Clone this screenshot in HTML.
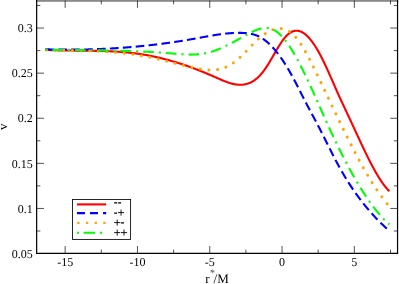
<!DOCTYPE html>
<html><head><meta charset="utf-8"><style>
html,body{margin:0;padding:0;background:#fff;}
svg{display:block;font-family:"Liberation Serif",serif;}
text{filter:grayscale(1);text-rendering:geometricPrecision;}
</style></head><body>
<svg width="399" height="284" viewBox="0 0 399 284">
<rect width="399" height="284" fill="#fff"/>
<rect x="36.05" y="0" width="362.1" height="1.8" fill="#888"/>
<path d="M36.65,0 V253.3 H397.55 V0" fill="none" stroke="#000" stroke-width="1.2" stroke-linejoin="miter"/>
<path d="M65.15,253.3 v-7.3 M65.15,0.6 v7.3 M101.30,253.3 v-3.7 M101.30,0.6 v3.7 M137.45,253.3 v-7.3 M137.45,0.6 v7.3 M173.60,253.3 v-3.7 M173.60,0.6 v3.7 M209.75,253.3 v-7.3 M209.75,0.6 v7.3 M245.90,253.3 v-3.7 M245.90,0.6 v3.7 M282.05,253.3 v-7.3 M282.05,0.6 v7.3 M318.20,253.3 v-3.7 M318.20,0.6 v3.7 M354.35,253.3 v-7.3 M354.35,0.6 v7.3 M390.50,253.3 v-3.7 M390.50,0.6 v3.7 M36.65,231.00 h3.7 M397.55,231.00 h-3.7 M36.65,208.45 h7.3 M397.55,208.45 h-7.3 M36.65,185.90 h3.7 M397.55,185.90 h-3.7 M36.65,163.35 h7.3 M397.55,163.35 h-7.3 M36.65,140.80 h3.7 M397.55,140.80 h-3.7 M36.65,118.25 h7.3 M397.55,118.25 h-7.3 M36.65,95.70 h3.7 M397.55,95.70 h-3.7 M36.65,73.15 h7.3 M397.55,73.15 h-7.3 M36.65,50.60 h3.7 M397.55,50.60 h-3.7 M36.65,28.05 h7.3 M397.55,28.05 h-7.3 M36.65,5.50 h3.7 M397.55,5.50 h-3.7" stroke="#000" stroke-width="0.68" fill="none"/>
<g font-size="12"><text x="65.15" y="265.8" text-anchor="middle">-15</text><text x="137.45" y="265.8" text-anchor="middle">-10</text><text x="209.75" y="265.8" text-anchor="middle">-5</text><text x="282.05" y="265.8" text-anchor="middle">0</text><text x="354.35" y="265.8" text-anchor="middle">5</text><text x="32.8" y="257.75" text-anchor="end">0.05</text><text x="32.8" y="212.65" text-anchor="end">0.1</text><text x="32.8" y="167.55" text-anchor="end">0.15</text><text x="32.8" y="122.45" text-anchor="end">0.2</text><text x="32.8" y="77.35" text-anchor="end">0.25</text><text x="32.8" y="32.25" text-anchor="end">0.3</text></g>
<path d="M45.30,49.90 L45.79,49.92 L46.28,49.95 L46.78,49.97 L47.27,49.99 L47.76,50.01 L48.25,50.03 L48.75,50.05 L49.24,50.07 L49.73,50.09 L50.22,50.11 L50.72,50.13 L51.21,50.14 L51.70,50.16 L52.19,50.18 L52.68,50.19 L53.18,50.21 L53.67,50.22 L54.16,50.24 L54.65,50.25 L55.15,50.27 L55.64,50.28 L56.13,50.29 L56.62,50.31 L57.11,50.32 L57.61,50.33 L58.10,50.34 L58.59,50.35 L59.08,50.37 L59.58,50.38 L60.07,50.39 L60.56,50.40 L61.05,50.41 L61.55,50.42 L62.04,50.42 L62.53,50.43 L63.02,50.44 L63.51,50.45 L64.01,50.46 L64.50,50.47 L64.99,50.47 L65.48,50.48 L65.98,50.49 L66.47,50.50 L66.96,50.50 L67.45,50.51 L67.94,50.51 L68.44,50.52 L68.93,50.53 L69.42,50.53 L69.91,50.54 L70.41,50.54 L70.90,50.55 L71.39,50.55 L71.88,50.56 L72.38,50.56 L72.87,50.57 L73.36,50.57 L73.85,50.58 L74.34,50.58 L74.84,50.59 L75.33,50.59 L75.82,50.60 L76.31,50.60 L76.81,50.61 L77.30,50.61 L77.79,50.62 L78.28,50.62 L78.77,50.62 L79.27,50.63 L79.76,50.63 L80.25,50.64 L80.74,50.64 L81.24,50.65 L81.73,50.65 L82.22,50.66 L82.71,50.66 L83.21,50.67 L83.70,50.67 L84.19,50.68 L84.68,50.68 L85.17,50.69 L85.67,50.69 L86.16,50.70 L86.65,50.70 L87.14,50.71 L87.64,50.71 L88.13,50.72 L88.62,50.73 L89.11,50.73 L89.60,50.74 L90.10,50.75 L90.59,50.75 L91.08,50.76 L91.57,50.77 L92.07,50.78 L92.56,50.78 L93.05,50.79 L93.54,50.80 L94.04,50.81 L94.53,50.82 L95.02,50.83 L95.51,50.84 L96.00,50.85 L96.50,50.86 L96.99,50.87 L97.48,50.88 L97.97,50.89 L98.47,50.90 L98.96,50.91 L99.45,50.93 L99.94,50.94 L100.43,50.95 L100.93,50.96 L101.42,50.98 L101.91,50.99 L102.40,51.01 L102.90,51.02 L103.39,51.04 L103.88,51.05 L104.37,51.07 L104.87,51.09 L105.36,51.10 L105.85,51.12 L106.34,51.14 L106.83,51.16 L107.33,51.18 L107.82,51.20 L108.31,51.22 L108.80,51.24 L109.30,51.26 L109.79,51.28 L110.28,51.31 L110.77,51.33 L111.26,51.35 L111.76,51.38 L112.25,51.40 L112.74,51.43 L113.23,51.45 L113.73,51.48 L114.22,51.51 L114.71,51.53 L115.20,51.56 L115.70,51.59 L116.19,51.62 L116.68,51.65 L117.17,51.68 L117.66,51.72 L118.16,51.75 L118.65,51.78 L119.14,51.82 L119.63,51.85 L120.13,51.89 L120.62,51.92 L121.11,51.96 L121.60,52.00 L122.09,52.04 L122.59,52.07 L123.08,52.11 L123.57,52.16 L124.06,52.20 L124.56,52.24 L125.05,52.28 L125.54,52.33 L126.03,52.37 L126.53,52.42 L127.02,52.46 L127.51,52.51 L128.00,52.56 L128.49,52.61 L128.99,52.66 L129.48,52.71 L129.97,52.76 L130.46,52.81 L130.96,52.87 L131.45,52.92 L131.94,52.98 L132.43,53.03 L132.92,53.09 L133.42,53.15 L133.91,53.21 L134.40,53.27 L134.89,53.33 L135.39,53.39 L135.88,53.46 L136.37,53.52 L136.86,53.59 L137.36,53.65 L137.85,53.72 L138.34,53.79 L138.83,53.86 L139.32,53.93 L139.82,54.00 L140.31,54.07 L140.80,54.15 L141.29,54.22 L141.79,54.30 L142.28,54.37 L142.77,54.45 L143.26,54.53 L143.75,54.61 L144.25,54.69 L144.74,54.78 L145.23,54.86 L145.72,54.94 L146.22,55.03 L146.71,55.12 L147.20,55.21 L147.69,55.30 L148.19,55.39 L148.68,55.48 L149.17,55.57 L149.66,55.67 L150.15,55.76 L150.65,55.86 L151.14,55.96 L151.63,56.06 L152.12,56.16 L152.62,56.26 L153.11,56.36 L153.60,56.46 L154.09,56.57 L154.58,56.67 L155.08,56.78 L155.57,56.89 L156.06,57.00 L156.55,57.11 L157.05,57.22 L157.54,57.33 L158.03,57.44 L158.52,57.56 L159.02,57.67 L159.51,57.79 L160.00,57.91 L160.49,58.03 L160.98,58.15 L161.48,58.27 L161.97,58.39 L162.46,58.51 L162.95,58.64 L163.45,58.76 L163.94,58.89 L164.43,59.01 L164.92,59.14 L165.42,59.27 L165.91,59.40 L166.40,59.53 L166.89,59.67 L167.38,59.80 L167.88,59.93 L168.37,60.07 L168.86,60.21 L169.35,60.34 L169.85,60.48 L170.34,60.62 L170.83,60.76 L171.32,60.90 L171.81,61.05 L172.31,61.19 L172.80,61.33 L173.29,61.48 L173.78,61.63 L174.28,61.77 L174.77,61.92 L175.26,62.07 L175.75,62.22 L176.25,62.37 L176.74,62.52 L177.23,62.68 L177.72,62.83 L178.21,62.99 L178.71,63.14 L179.20,63.30 L179.69,63.46 L180.18,63.62 L180.68,63.78 L181.17,63.94 L181.66,64.10 L182.15,64.26 L182.64,64.43 L183.14,64.59 L183.63,64.76 L184.12,64.92 L184.61,65.09 L185.11,65.26 L185.60,65.43 L186.09,65.60 L186.58,65.77 L187.08,65.94 L187.57,66.11 L188.06,66.29 L188.55,66.46 L189.04,66.63 L189.54,66.81 L190.03,66.99 L190.52,67.17 L191.01,67.34 L191.51,67.52 L192.00,67.70 L192.49,67.89 L192.98,68.07 L193.47,68.25 L193.97,68.44 L194.46,68.62 L194.95,68.81 L195.44,68.99 L195.94,69.18 L196.43,69.37 L196.92,69.56 L197.41,69.75 L197.91,69.94 L198.40,70.13 L198.89,70.32 L199.38,70.51 L199.87,70.71 L200.37,70.90 L200.86,71.10 L201.35,71.29 L201.84,71.49 L202.34,71.69 L202.83,71.89 L203.32,72.09 L203.81,72.29 L204.30,72.49 L204.80,72.69 L205.29,72.89 L205.78,73.10 L206.27,73.30 L206.77,73.50 L207.26,73.71 L207.75,73.92 L208.24,74.12 L208.74,74.33 L209.23,74.54 L209.72,74.75 L210.21,74.96 L210.70,75.17 L211.20,75.38 L211.69,75.59 L212.18,75.81 L212.67,76.02 L213.17,76.24 L213.66,76.45 L214.15,76.67 L214.64,76.88 L215.13,77.10 L215.63,77.32 L216.12,77.54 L216.61,77.76 L217.10,77.97 L217.60,78.19 L218.09,78.41 L218.58,78.63 L219.07,78.85 L219.57,79.06 L220.06,79.28 L220.55,79.49 L221.04,79.70 L221.53,79.91 L222.03,80.12 L222.52,80.33 L223.01,80.53 L223.50,80.74 L224.00,80.94 L224.49,81.13 L224.98,81.33 L225.47,81.52 L225.96,81.70 L226.46,81.89 L226.95,82.07 L227.44,82.24 L227.93,82.42 L228.43,82.58 L228.92,82.75 L229.41,82.90 L229.90,83.06 L230.40,83.20 L230.89,83.35 L231.38,83.48 L231.87,83.62 L232.36,83.74 L232.86,83.86 L233.35,83.97 L233.84,84.08 L234.33,84.18 L234.83,84.27 L235.32,84.36 L235.81,84.44 L236.30,84.51 L236.79,84.57 L237.29,84.63 L237.78,84.68 L238.27,84.72 L238.76,84.75 L239.26,84.77 L239.75,84.78 L240.24,84.79 L240.73,84.79 L241.23,84.77 L241.72,84.75 L242.21,84.72 L242.70,84.67 L243.19,84.62 L243.69,84.56 L244.18,84.48 L244.67,84.40 L245.16,84.30 L245.66,84.20 L246.15,84.08 L246.64,83.95 L247.13,83.81 L247.62,83.65 L248.12,83.49 L248.61,83.31 L249.10,83.12 L249.59,82.92 L250.09,82.71 L250.58,82.48 L251.07,82.24 L251.56,81.98 L252.06,81.71 L252.55,81.43 L253.04,81.13 L253.53,80.82 L254.02,80.50 L254.52,80.16 L255.01,79.81 L255.50,79.44 L255.99,79.05 L256.49,78.65 L256.98,78.24 L257.47,77.81 L257.96,77.36 L258.45,76.90 L258.95,76.42 L259.44,75.92 L259.93,75.41 L260.42,74.88 L260.92,74.33 L261.41,73.77 L261.90,73.19 L262.39,72.59 L262.89,71.97 L263.38,71.34 L263.87,70.69 L264.36,70.02 L264.85,69.33 L265.35,68.62 L265.84,67.90 L266.33,67.16 L266.82,66.40 L267.32,65.64 L267.81,64.86 L268.30,64.07 L268.79,63.26 L269.28,62.45 L269.78,61.63 L270.27,60.81 L270.76,59.97 L271.25,59.13 L271.75,58.29 L272.24,57.44 L272.73,56.59 L273.22,55.74 L273.72,54.89 L274.21,54.04 L274.70,53.19 L275.19,52.34 L275.68,51.49 L276.18,50.65 L276.67,49.82 L277.16,48.99 L277.65,48.17 L278.15,47.35 L278.64,46.55 L279.13,45.76 L279.62,44.97 L280.12,44.20 L280.61,43.45 L281.10,42.70 L281.59,41.98 L282.08,41.27 L282.58,40.57 L283.07,39.90 L283.56,39.24 L284.05,38.60 L284.55,37.99 L285.04,37.40 L285.53,36.83 L286.02,36.28 L286.51,35.76 L287.01,35.27 L287.50,34.80 L287.99,34.36 L288.48,33.94 L288.98,33.55 L289.47,33.19 L289.96,32.85 L290.45,32.54 L290.95,32.25 L291.44,31.98 L291.93,31.75 L292.42,31.53 L292.91,31.34 L293.41,31.18 L293.90,31.04 L294.39,30.93 L294.88,30.84 L295.38,30.77 L295.87,30.73 L296.36,30.71 L296.85,30.71 L297.34,30.74 L297.84,30.79 L298.33,30.86 L298.82,30.96 L299.31,31.08 L299.81,31.22 L300.30,31.39 L300.79,31.58 L301.28,31.79 L301.78,32.02 L302.27,32.28 L302.76,32.55 L303.25,32.85 L303.74,33.17 L304.24,33.52 L304.73,33.88 L305.22,34.26 L305.71,34.67 L306.21,35.09 L306.70,35.54 L307.19,36.00 L307.68,36.49 L308.17,37.00 L308.67,37.52 L309.16,38.06 L309.65,38.63 L310.14,39.21 L310.64,39.81 L311.13,40.43 L311.62,41.06 L312.11,41.72 L312.61,42.39 L313.10,43.08 L313.59,43.78 L314.08,44.51 L314.57,45.25 L315.07,46.00 L315.56,46.78 L316.05,47.57 L316.54,48.37 L317.04,49.19 L317.53,50.03 L318.02,50.88 L318.51,51.74 L319.00,52.62 L319.50,53.52 L319.99,54.43 L320.48,55.35 L320.97,56.29 L321.47,57.24 L321.96,58.20 L322.45,59.18 L322.94,60.17 L323.44,61.17 L323.93,62.19 L324.42,63.21 L324.91,64.25 L325.40,65.29 L325.90,66.35 L326.39,67.42 L326.88,68.49 L327.37,69.57 L327.87,70.66 L328.36,71.75 L328.85,72.85 L329.34,73.96 L329.83,75.07 L330.33,76.18 L330.82,77.30 L331.31,78.42 L331.80,79.54 L332.30,80.67 L332.79,81.79 L333.28,82.92 L333.77,84.04 L334.27,85.17 L334.76,86.29 L335.25,87.41 L335.74,88.53 L336.23,89.64 L336.73,90.75 L337.22,91.86 L337.71,92.96 L338.20,94.06 L338.70,95.15 L339.19,96.23 L339.68,97.31 L340.17,98.39 L340.66,99.46 L341.16,100.53 L341.65,101.59 L342.14,102.65 L342.63,103.71 L343.13,104.76 L343.62,105.81 L344.11,106.86 L344.60,107.91 L345.10,108.96 L345.59,110.00 L346.08,111.05 L346.57,112.09 L347.06,113.14 L347.56,114.18 L348.05,115.23 L348.54,116.27 L349.03,117.32 L349.53,118.37 L350.02,119.42 L350.51,120.48 L351.00,121.53 L351.49,122.59 L351.99,123.65 L352.48,124.71 L352.97,125.78 L353.46,126.84 L353.96,127.91 L354.45,128.97 L354.94,130.04 L355.43,131.10 L355.93,132.17 L356.42,133.24 L356.91,134.30 L357.40,135.37 L357.89,136.43 L358.39,137.50 L358.88,138.56 L359.37,139.62 L359.86,140.68 L360.36,141.73 L360.85,142.78 L361.34,143.83 L361.83,144.88 L362.32,145.93 L362.82,146.97 L363.31,148.00 L363.80,149.04 L364.29,150.07 L364.79,151.09 L365.28,152.11 L365.77,153.13 L366.26,154.14 L366.76,155.14 L367.25,156.14 L367.74,157.13 L368.23,158.12 L368.72,159.10 L369.22,160.07 L369.71,161.04 L370.20,162.00 L370.69,162.95 L371.19,163.90 L371.68,164.84 L372.17,165.77 L372.66,166.69 L373.15,167.60 L373.65,168.50 L374.14,169.40 L374.63,170.28 L375.12,171.16 L375.62,172.02 L376.11,172.88 L376.60,173.72 L377.09,174.56 L377.59,175.38 L378.08,176.20 L378.57,177.00 L379.06,177.79 L379.55,178.57 L380.05,179.33 L380.54,180.09 L381.03,180.83 L381.52,181.56 L382.02,182.28 L382.51,182.98 L383.00,183.67 L383.49,184.35 L383.98,185.01 L384.48,185.66 L384.97,186.29 L385.46,186.91 L385.95,187.51 L386.45,188.10 L386.94,188.67 L387.43,189.23 L387.92,189.77 L388.42,190.30 L388.91,190.81 L389.40,191.30" stroke="#ff0000" stroke-width="2.1" fill="none" stroke-linejoin="round"/>
<path d="M45.30,49.30 L45.79,49.31 L46.28,49.33 L46.78,49.34 L47.27,49.36 L47.76,49.37 L48.25,49.38 L48.75,49.40 L49.24,49.41 L49.73,49.42 L50.22,49.43 L50.72,49.45 L51.21,49.46 L51.70,49.47 L52.19,49.48 L52.68,49.49 L53.18,49.50 L53.67,49.51 L54.16,49.52 L54.65,49.53 L55.15,49.54 L55.64,49.55 L56.13,49.56 L56.62,49.56 L57.11,49.57 L57.61,49.58 L58.10,49.59 L58.59,49.59 L59.08,49.60 L59.58,49.61 L60.07,49.61 L60.56,49.62 L61.05,49.62 L61.55,49.63 L62.04,49.63 L62.53,49.64 L63.02,49.64 L63.51,49.64 L64.01,49.65 L64.50,49.65 L64.99,49.65 L65.48,49.66 L65.98,49.66 L66.47,49.66 L66.96,49.66 L67.45,49.66 L67.94,49.66 L68.44,49.66 L68.93,49.66 L69.42,49.66 L69.91,49.66 L70.41,49.66 L70.90,49.66 L71.39,49.66 L71.88,49.66 L72.38,49.66 L72.87,49.65 L73.36,49.65 L73.85,49.65 L74.34,49.65 L74.84,49.64 L75.33,49.64 L75.82,49.63 L76.31,49.63 L76.81,49.62 L77.30,49.62 L77.79,49.61 L78.28,49.61 L78.77,49.60 L79.27,49.59 L79.76,49.59 L80.25,49.58 L80.74,49.57 L81.24,49.57 L81.73,49.56 L82.22,49.55 L82.71,49.54 L83.21,49.53 L83.70,49.52 L84.19,49.51 L84.68,49.50 L85.17,49.49 L85.67,49.48 L86.16,49.47 L86.65,49.46 L87.14,49.45 L87.64,49.43 L88.13,49.42 L88.62,49.41 L89.11,49.40 L89.60,49.38 L90.10,49.37 L90.59,49.35 L91.08,49.34 L91.57,49.33 L92.07,49.31 L92.56,49.29 L93.05,49.28 L93.54,49.26 L94.04,49.25 L94.53,49.23 L95.02,49.21 L95.51,49.20 L96.00,49.18 L96.50,49.16 L96.99,49.14 L97.48,49.12 L97.97,49.10 L98.47,49.09 L98.96,49.07 L99.45,49.05 L99.94,49.03 L100.43,49.00 L100.93,48.98 L101.42,48.96 L101.91,48.94 L102.40,48.92 L102.90,48.90 L103.39,48.87 L103.88,48.85 L104.37,48.83 L104.87,48.80 L105.36,48.78 L105.85,48.76 L106.34,48.73 L106.83,48.71 L107.33,48.68 L107.82,48.66 L108.31,48.63 L108.80,48.60 L109.30,48.58 L109.79,48.55 L110.28,48.52 L110.77,48.49 L111.26,48.47 L111.76,48.44 L112.25,48.41 L112.74,48.38 L113.23,48.35 L113.73,48.32 L114.22,48.29 L114.71,48.26 L115.20,48.23 L115.70,48.20 L116.19,48.17 L116.68,48.14 L117.17,48.10 L117.66,48.07 L118.16,48.04 L118.65,48.01 L119.14,47.97 L119.63,47.94 L120.13,47.90 L120.62,47.87 L121.11,47.83 L121.60,47.80 L122.09,47.76 L122.59,47.73 L123.08,47.69 L123.57,47.66 L124.06,47.62 L124.56,47.58 L125.05,47.54 L125.54,47.51 L126.03,47.47 L126.53,47.43 L127.02,47.39 L127.51,47.35 L128.00,47.31 L128.49,47.27 L128.99,47.23 L129.48,47.19 L129.97,47.15 L130.46,47.11 L130.96,47.07 L131.45,47.03 L131.94,46.98 L132.43,46.94 L132.92,46.90 L133.42,46.85 L133.91,46.81 L134.40,46.77 L134.89,46.72 L135.39,46.68 L135.88,46.63 L136.37,46.59 L136.86,46.54 L137.36,46.49 L137.85,46.45 L138.34,46.40 L138.83,46.35 L139.32,46.31 L139.82,46.26 L140.31,46.21 L140.80,46.16 L141.29,46.11 L141.79,46.06 L142.28,46.01 L142.77,45.96 L143.26,45.91 L143.75,45.86 L144.25,45.81 L144.74,45.76 L145.23,45.71 L145.72,45.66 L146.22,45.60 L146.71,45.55 L147.20,45.50 L147.69,45.44 L148.19,45.39 L148.68,45.34 L149.17,45.28 L149.66,45.23 L150.15,45.17 L150.65,45.11 L151.14,45.06 L151.63,45.00 L152.12,44.95 L152.62,44.89 L153.11,44.83 L153.60,44.77 L154.09,44.72 L154.58,44.66 L155.08,44.60 L155.57,44.54 L156.06,44.48 L156.55,44.42 L157.05,44.36 L157.54,44.30 L158.03,44.24 L158.52,44.18 L159.02,44.11 L159.51,44.05 L160.00,43.99 L160.49,43.93 L160.98,43.86 L161.48,43.80 L161.97,43.74 L162.46,43.67 L162.95,43.61 L163.45,43.54 L163.94,43.48 L164.43,43.41 L164.92,43.35 L165.42,43.28 L165.91,43.21 L166.40,43.15 L166.89,43.08 L167.38,43.01 L167.88,42.94 L168.37,42.87 L168.86,42.80 L169.35,42.74 L169.85,42.67 L170.34,42.60 L170.83,42.53 L171.32,42.45 L171.81,42.38 L172.31,42.31 L172.80,42.24 L173.29,42.17 L173.78,42.10 L174.28,42.02 L174.77,41.95 L175.26,41.88 L175.75,41.80 L176.25,41.73 L176.74,41.65 L177.23,41.58 L177.72,41.50 L178.21,41.43 L178.71,41.35 L179.20,41.27 L179.69,41.20 L180.18,41.12 L180.68,41.04 L181.17,40.96 L181.66,40.88 L182.15,40.81 L182.64,40.73 L183.14,40.65 L183.63,40.57 L184.12,40.49 L184.61,40.41 L185.11,40.33 L185.60,40.24 L186.09,40.16 L186.58,40.08 L187.08,40.00 L187.57,39.92 L188.06,39.83 L188.55,39.75 L189.04,39.66 L189.54,39.58 L190.03,39.50 L190.52,39.41 L191.01,39.33 L191.51,39.24 L192.00,39.15 L192.49,39.07 L192.98,38.98 L193.47,38.89 L193.97,38.80 L194.46,38.72 L194.95,38.63 L195.44,38.54 L195.94,38.45 L196.43,38.36 L196.92,38.27 L197.41,38.18 L197.91,38.09 L198.40,38.00 L198.89,37.91 L199.38,37.82 L199.87,37.73 L200.37,37.64 L200.86,37.55 L201.35,37.46 L201.84,37.37 L202.34,37.27 L202.83,37.18 L203.32,37.09 L203.81,37.00 L204.30,36.91 L204.80,36.82 L205.29,36.73 L205.78,36.64 L206.27,36.55 L206.77,36.46 L207.26,36.38 L207.75,36.29 L208.24,36.20 L208.74,36.11 L209.23,36.03 L209.72,35.94 L210.21,35.85 L210.70,35.77 L211.20,35.68 L211.69,35.60 L212.18,35.52 L212.67,35.43 L213.17,35.35 L213.66,35.27 L214.15,35.19 L214.64,35.11 L215.13,35.03 L215.63,34.96 L216.12,34.88 L216.61,34.80 L217.10,34.73 L217.60,34.65 L218.09,34.58 L218.58,34.51 L219.07,34.44 L219.57,34.37 L220.06,34.30 L220.55,34.23 L221.04,34.17 L221.53,34.10 L222.03,34.04 L222.52,33.98 L223.01,33.92 L223.50,33.86 L224.00,33.80 L224.49,33.74 L224.98,33.69 L225.47,33.63 L225.96,33.58 L226.46,33.53 L226.95,33.48 L227.44,33.43 L227.93,33.39 L228.43,33.35 L228.92,33.30 L229.41,33.26 L229.90,33.22 L230.40,33.19 L230.89,33.15 L231.38,33.12 L231.87,33.09 L232.36,33.06 L232.86,33.03 L233.35,33.01 L233.84,32.98 L234.33,32.96 L234.83,32.94 L235.32,32.92 L235.81,32.91 L236.30,32.90 L236.79,32.89 L237.29,32.88 L237.78,32.87 L238.27,32.87 L238.76,32.87 L239.26,32.87 L239.75,32.87 L240.24,32.88 L240.73,32.88 L241.23,32.89 L241.72,32.91 L242.21,32.92 L242.70,32.94 L243.19,32.96 L243.69,32.99 L244.18,33.01 L244.67,33.04 L245.16,33.08 L245.66,33.12 L246.15,33.16 L246.64,33.20 L247.13,33.25 L247.62,33.31 L248.12,33.37 L248.61,33.44 L249.10,33.51 L249.59,33.59 L250.09,33.67 L250.58,33.76 L251.07,33.86 L251.56,33.96 L252.06,34.07 L252.55,34.19 L253.04,34.31 L253.53,34.45 L254.02,34.59 L254.52,34.74 L255.01,34.89 L255.50,35.06 L255.99,35.24 L256.49,35.42 L256.98,35.61 L257.47,35.82 L257.96,36.03 L258.45,36.26 L258.95,36.49 L259.44,36.74 L259.93,36.99 L260.42,37.26 L260.92,37.54 L261.41,37.83 L261.90,38.13 L262.39,38.44 L262.89,38.76 L263.38,39.10 L263.87,39.44 L264.36,39.80 L264.85,40.16 L265.35,40.54 L265.84,40.93 L266.33,41.32 L266.82,41.73 L267.32,42.15 L267.81,42.58 L268.30,43.02 L268.79,43.48 L269.28,43.94 L269.78,44.41 L270.27,44.89 L270.76,45.38 L271.25,45.89 L271.75,46.40 L272.24,46.92 L272.73,47.45 L273.22,48.00 L273.72,48.55 L274.21,49.11 L274.70,49.69 L275.19,50.27 L275.68,50.86 L276.18,51.47 L276.67,52.08 L277.16,52.70 L277.65,53.33 L278.15,53.97 L278.64,54.62 L279.13,55.28 L279.62,55.95 L280.12,56.63 L280.61,57.32 L281.10,58.02 L281.59,58.72 L282.08,59.44 L282.58,60.17 L283.07,60.90 L283.56,61.64 L284.05,62.40 L284.55,63.16 L285.04,63.93 L285.53,64.71 L286.02,65.50 L286.51,66.29 L287.01,67.10 L287.50,67.91 L287.99,68.74 L288.48,69.57 L288.98,70.41 L289.47,71.26 L289.96,72.12 L290.45,72.98 L290.95,73.86 L291.44,74.74 L291.93,75.63 L292.42,76.53 L292.91,77.44 L293.41,78.36 L293.90,79.28 L294.39,80.21 L294.88,81.14 L295.38,82.09 L295.87,83.03 L296.36,83.98 L296.85,84.94 L297.34,85.90 L297.84,86.86 L298.33,87.83 L298.82,88.80 L299.31,89.77 L299.81,90.74 L300.30,91.71 L300.79,92.68 L301.28,93.66 L301.78,94.63 L302.27,95.60 L302.76,96.57 L303.25,97.53 L303.74,98.50 L304.24,99.46 L304.73,100.41 L305.22,101.37 L305.71,102.32 L306.21,103.26 L306.70,104.20 L307.19,105.14 L307.68,106.07 L308.17,107.00 L308.67,107.93 L309.16,108.86 L309.65,109.78 L310.14,110.70 L310.64,111.63 L311.13,112.55 L311.62,113.47 L312.11,114.39 L312.61,115.30 L313.10,116.22 L313.59,117.14 L314.08,118.06 L314.57,118.98 L315.07,119.91 L315.56,120.83 L316.05,121.76 L316.54,122.69 L317.04,123.62 L317.53,124.55 L318.02,125.49 L318.51,126.43 L319.00,127.37 L319.50,128.32 L319.99,129.27 L320.48,130.23 L320.97,131.19 L321.47,132.16 L321.96,133.13 L322.45,134.10 L322.94,135.08 L323.44,136.06 L323.93,137.04 L324.42,138.02 L324.91,139.01 L325.40,139.99 L325.90,140.98 L326.39,141.97 L326.88,142.96 L327.37,143.95 L327.87,144.94 L328.36,145.92 L328.85,146.91 L329.34,147.90 L329.83,148.88 L330.33,149.86 L330.82,150.84 L331.31,151.82 L331.80,152.79 L332.30,153.76 L332.79,154.73 L333.28,155.69 L333.77,156.65 L334.27,157.61 L334.76,158.55 L335.25,159.50 L335.74,160.44 L336.23,161.37 L336.73,162.29 L337.22,163.21 L337.71,164.12 L338.20,165.03 L338.70,165.93 L339.19,166.82 L339.68,167.71 L340.17,168.59 L340.66,169.46 L341.16,170.33 L341.65,171.19 L342.14,172.04 L342.63,172.89 L343.13,173.73 L343.62,174.57 L344.11,175.40 L344.60,176.22 L345.10,177.04 L345.59,177.85 L346.08,178.65 L346.57,179.45 L347.06,180.25 L347.56,181.04 L348.05,181.82 L348.54,182.60 L349.03,183.37 L349.53,184.13 L350.02,184.89 L350.51,185.65 L351.00,186.39 L351.49,187.14 L351.99,187.87 L352.48,188.61 L352.97,189.33 L353.46,190.06 L353.96,190.77 L354.45,191.48 L354.94,192.19 L355.43,192.89 L355.93,193.58 L356.42,194.28 L356.91,194.96 L357.40,195.64 L357.89,196.32 L358.39,196.99 L358.88,197.65 L359.37,198.31 L359.86,198.97 L360.36,199.62 L360.85,200.27 L361.34,200.91 L361.83,201.54 L362.32,202.18 L362.82,202.80 L363.31,203.43 L363.80,204.05 L364.29,204.66 L364.79,205.27 L365.28,205.88 L365.77,206.48 L366.26,207.07 L366.76,207.67 L367.25,208.25 L367.74,208.84 L368.23,209.42 L368.72,209.99 L369.22,210.57 L369.71,211.13 L370.20,211.70 L370.69,212.26 L371.19,212.81 L371.68,213.37 L372.17,213.91 L372.66,214.46 L373.15,215.00 L373.65,215.54 L374.14,216.07 L374.63,216.60 L375.12,217.13 L375.62,217.65 L376.11,218.17 L376.60,218.68 L377.09,219.19 L377.59,219.70 L378.08,220.21 L378.57,220.71 L379.06,221.21 L379.55,221.71 L380.05,222.20 L380.54,222.69 L381.03,223.17 L381.52,223.66 L382.02,224.14 L382.51,224.61 L383.00,225.09 L383.49,225.56 L383.98,226.03 L384.48,226.49 L384.97,226.96 L385.46,227.42 L385.95,227.87 L386.45,228.33 L386.94,228.78 L387.43,229.23 L387.92,229.68 L388.42,230.12 L388.91,230.56 L389.40,231.00" stroke="#0000ff" stroke-width="2.1" fill="none" stroke-dasharray="8.700 4.228"/>
<path d="M45.30,50.10 L45.79,50.11 L46.28,50.11 L46.78,50.12 L47.27,50.13 L47.76,50.13 L48.25,50.14 L48.75,50.15 L49.24,50.15 L49.73,50.16 L50.22,50.16 L50.72,50.17 L51.21,50.18 L51.70,50.18 L52.19,50.19 L52.68,50.19 L53.18,50.20 L53.67,50.20 L54.16,50.21 L54.65,50.22 L55.15,50.22 L55.64,50.23 L56.13,50.23 L56.62,50.24 L57.11,50.24 L57.61,50.25 L58.10,50.25 L58.59,50.26 L59.08,50.27 L59.58,50.27 L60.07,50.28 L60.56,50.28 L61.05,50.29 L61.55,50.29 L62.04,50.30 L62.53,50.31 L63.02,50.31 L63.51,50.32 L64.01,50.32 L64.50,50.33 L64.99,50.34 L65.48,50.34 L65.98,50.35 L66.47,50.36 L66.96,50.36 L67.45,50.37 L67.94,50.38 L68.44,50.38 L68.93,50.39 L69.42,50.40 L69.91,50.40 L70.41,50.41 L70.90,50.42 L71.39,50.43 L71.88,50.43 L72.38,50.44 L72.87,50.45 L73.36,50.46 L73.85,50.47 L74.34,50.48 L74.84,50.49 L75.33,50.49 L75.82,50.50 L76.31,50.51 L76.81,50.52 L77.30,50.53 L77.79,50.54 L78.28,50.55 L78.77,50.56 L79.27,50.58 L79.76,50.59 L80.25,50.60 L80.74,50.61 L81.24,50.62 L81.73,50.63 L82.22,50.65 L82.71,50.66 L83.21,50.67 L83.70,50.69 L84.19,50.70 L84.68,50.71 L85.17,50.73 L85.67,50.74 L86.16,50.76 L86.65,50.77 L87.14,50.79 L87.64,50.80 L88.13,50.82 L88.62,50.84 L89.11,50.85 L89.60,50.87 L90.10,50.89 L90.59,50.90 L91.08,50.92 L91.57,50.94 L92.07,50.96 L92.56,50.98 L93.05,51.00 L93.54,51.02 L94.04,51.04 L94.53,51.06 L95.02,51.08 L95.51,51.10 L96.00,51.13 L96.50,51.15 L96.99,51.17 L97.48,51.20 L97.97,51.22 L98.47,51.24 L98.96,51.27 L99.45,51.29 L99.94,51.32 L100.43,51.35 L100.93,51.37 L101.42,51.40 L101.91,51.43 L102.40,51.45 L102.90,51.48 L103.39,51.51 L103.88,51.54 L104.37,51.57 L104.87,51.60 L105.36,51.63 L105.85,51.67 L106.34,51.70 L106.83,51.73 L107.33,51.76 L107.82,51.80 L108.31,51.83 L108.80,51.87 L109.30,51.90 L109.79,51.94 L110.28,51.97 L110.77,52.01 L111.26,52.05 L111.76,52.09 L112.25,52.13 L112.74,52.17 L113.23,52.21 L113.73,52.25 L114.22,52.29 L114.71,52.33 L115.20,52.37 L115.70,52.42 L116.19,52.46 L116.68,52.51 L117.17,52.55 L117.66,52.60 L118.16,52.64 L118.65,52.69 L119.14,52.74 L119.63,52.79 L120.13,52.84 L120.62,52.89 L121.11,52.94 L121.60,52.99 L122.09,53.04 L122.59,53.09 L123.08,53.15 L123.57,53.20 L124.06,53.25 L124.56,53.31 L125.05,53.37 L125.54,53.42 L126.03,53.48 L126.53,53.54 L127.02,53.60 L127.51,53.66 L128.00,53.72 L128.49,53.78 L128.99,53.84 L129.48,53.91 L129.97,53.97 L130.46,54.04 L130.96,54.10 L131.45,54.17 L131.94,54.23 L132.43,54.30 L132.92,54.37 L133.42,54.44 L133.91,54.51 L134.40,54.58 L134.89,54.65 L135.39,54.73 L135.88,54.80 L136.37,54.88 L136.86,54.95 L137.36,55.03 L137.85,55.10 L138.34,55.18 L138.83,55.26 L139.32,55.34 L139.82,55.42 L140.31,55.50 L140.80,55.59 L141.29,55.67 L141.79,55.75 L142.28,55.84 L142.77,55.93 L143.26,56.01 L143.75,56.10 L144.25,56.19 L144.74,56.28 L145.23,56.37 L145.72,56.46 L146.22,56.56 L146.71,56.65 L147.20,56.74 L147.69,56.84 L148.19,56.94 L148.68,57.03 L149.17,57.13 L149.66,57.23 L150.15,57.33 L150.65,57.44 L151.14,57.54 L151.63,57.64 L152.12,57.75 L152.62,57.85 L153.11,57.96 L153.60,58.07 L154.09,58.17 L154.58,58.28 L155.08,58.39 L155.57,58.50 L156.06,58.61 L156.55,58.73 L157.05,58.84 L157.54,58.95 L158.03,59.07 L158.52,59.18 L159.02,59.30 L159.51,59.41 L160.00,59.53 L160.49,59.65 L160.98,59.77 L161.48,59.88 L161.97,60.00 L162.46,60.12 L162.95,60.24 L163.45,60.36 L163.94,60.48 L164.43,60.61 L164.92,60.73 L165.42,60.85 L165.91,60.97 L166.40,61.09 L166.89,61.22 L167.38,61.34 L167.88,61.46 L168.37,61.59 L168.86,61.71 L169.35,61.84 L169.85,61.96 L170.34,62.09 L170.83,62.21 L171.32,62.34 L171.81,62.46 L172.31,62.59 L172.80,62.71 L173.29,62.84 L173.78,62.96 L174.28,63.09 L174.77,63.21 L175.26,63.34 L175.75,63.46 L176.25,63.59 L176.74,63.71 L177.23,63.84 L177.72,63.96 L178.21,64.08 L178.71,64.21 L179.20,64.33 L179.69,64.46 L180.18,64.58 L180.68,64.70 L181.17,64.83 L181.66,64.95 L182.15,65.07 L182.64,65.19 L183.14,65.31 L183.63,65.43 L184.12,65.55 L184.61,65.68 L185.11,65.79 L185.60,65.91 L186.09,66.03 L186.58,66.15 L187.08,66.27 L187.57,66.39 L188.06,66.50 L188.55,66.62 L189.04,66.73 L189.54,66.85 L190.03,66.96 L190.52,67.07 L191.01,67.19 L191.51,67.30 L192.00,67.41 L192.49,67.52 L192.98,67.63 L193.47,67.74 L193.97,67.84 L194.46,67.95 L194.95,68.05 L195.44,68.16 L195.94,68.26 L196.43,68.36 L196.92,68.46 L197.41,68.55 L197.91,68.65 L198.40,68.74 L198.89,68.83 L199.38,68.92 L199.87,69.00 L200.37,69.09 L200.86,69.17 L201.35,69.24 L201.84,69.32 L202.34,69.39 L202.83,69.46 L203.32,69.52 L203.81,69.59 L204.30,69.64 L204.80,69.70 L205.29,69.75 L205.78,69.80 L206.27,69.84 L206.77,69.88 L207.26,69.91 L207.75,69.94 L208.24,69.97 L208.74,69.99 L209.23,70.01 L209.72,70.02 L210.21,70.03 L210.70,70.03 L211.20,70.03 L211.69,70.02 L212.18,70.01 L212.67,69.99 L213.17,69.97 L213.66,69.94 L214.15,69.91 L214.64,69.87 L215.13,69.82 L215.63,69.77 L216.12,69.71 L216.61,69.64 L217.10,69.57 L217.60,69.49 L218.09,69.41 L218.58,69.32 L219.07,69.22 L219.57,69.11 L220.06,69.00 L220.55,68.88 L221.04,68.75 L221.53,68.62 L222.03,68.48 L222.52,68.33 L223.01,68.17 L223.50,68.00 L224.00,67.83 L224.49,67.65 L224.98,67.46 L225.47,67.26 L225.96,67.06 L226.46,66.84 L226.95,66.62 L227.44,66.39 L227.93,66.14 L228.43,65.89 L228.92,65.64 L229.41,65.37 L229.90,65.09 L230.40,64.80 L230.89,64.50 L231.38,64.20 L231.87,63.88 L232.36,63.55 L232.86,63.22 L233.35,62.87 L233.84,62.52 L234.33,62.15 L234.83,61.77 L235.32,61.39 L235.81,60.99 L236.30,60.59 L236.79,60.18 L237.29,59.76 L237.78,59.33 L238.27,58.90 L238.76,58.46 L239.26,58.01 L239.75,57.56 L240.24,57.10 L240.73,56.63 L241.23,56.16 L241.72,55.69 L242.21,55.21 L242.70,54.73 L243.19,54.24 L243.69,53.75 L244.18,53.25 L244.67,52.75 L245.16,52.25 L245.66,51.75 L246.15,51.25 L246.64,50.74 L247.13,50.23 L247.62,49.72 L248.12,49.22 L248.61,48.71 L249.10,48.20 L249.59,47.69 L250.09,47.18 L250.58,46.67 L251.07,46.17 L251.56,45.66 L252.06,45.16 L252.55,44.66 L253.04,44.17 L253.53,43.67 L254.02,43.18 L254.52,42.70 L255.01,42.21 L255.50,41.73 L255.99,41.26 L256.49,40.79 L256.98,40.33 L257.47,39.87 L257.96,39.42 L258.45,38.97 L258.95,38.54 L259.44,38.10 L259.93,37.68 L260.42,37.26 L260.92,36.85 L261.41,36.45 L261.90,36.06 L262.39,35.67 L262.89,35.29 L263.38,34.92 L263.87,34.56 L264.36,34.21 L264.85,33.86 L265.35,33.53 L265.84,33.20 L266.33,32.89 L266.82,32.58 L267.32,32.29 L267.81,32.00 L268.30,31.72 L268.79,31.45 L269.28,31.20 L269.78,30.95 L270.27,30.72 L270.76,30.49 L271.25,30.28 L271.75,30.08 L272.24,29.89 L272.73,29.71 L273.22,29.54 L273.72,29.38 L274.21,29.24 L274.70,29.11 L275.19,28.99 L275.68,28.88 L276.18,28.79 L276.67,28.71 L277.16,28.64 L277.65,28.59 L278.15,28.54 L278.64,28.52 L279.13,28.50 L279.62,28.50 L280.12,28.52 L280.61,28.55 L281.10,28.59 L281.59,28.65 L282.08,28.72 L282.58,28.80 L283.07,28.91 L283.56,29.02 L284.05,29.16 L284.55,29.30 L285.04,29.47 L285.53,29.65 L286.02,29.84 L286.51,30.06 L287.01,30.29 L287.50,30.53 L287.99,30.79 L288.48,31.07 L288.98,31.37 L289.47,31.68 L289.96,32.01 L290.45,32.36 L290.95,32.73 L291.44,33.11 L291.93,33.51 L292.42,33.94 L292.91,34.37 L293.41,34.83 L293.90,35.31 L294.39,35.80 L294.88,36.32 L295.38,36.85 L295.87,37.41 L296.36,37.98 L296.85,38.57 L297.34,39.18 L297.84,39.81 L298.33,40.46 L298.82,41.13 L299.31,41.81 L299.81,42.51 L300.30,43.22 L300.79,43.96 L301.28,44.70 L301.78,45.47 L302.27,46.25 L302.76,47.04 L303.25,47.84 L303.74,48.66 L304.24,49.49 L304.73,50.34 L305.22,51.20 L305.71,52.07 L306.21,52.95 L306.70,53.84 L307.19,54.74 L307.68,55.65 L308.17,56.57 L308.67,57.50 L309.16,58.44 L309.65,59.39 L310.14,60.35 L310.64,61.31 L311.13,62.28 L311.62,63.26 L312.11,64.24 L312.61,65.23 L313.10,66.23 L313.59,67.23 L314.08,68.23 L314.57,69.24 L315.07,70.25 L315.56,71.27 L316.05,72.29 L316.54,73.31 L317.04,74.33 L317.53,75.36 L318.02,76.38 L318.51,77.41 L319.00,78.44 L319.50,79.47 L319.99,80.50 L320.48,81.53 L320.97,82.56 L321.47,83.59 L321.96,84.63 L322.45,85.66 L322.94,86.70 L323.44,87.73 L323.93,88.77 L324.42,89.80 L324.91,90.84 L325.40,91.87 L325.90,92.91 L326.39,93.95 L326.88,94.99 L327.37,96.02 L327.87,97.06 L328.36,98.10 L328.85,99.13 L329.34,100.17 L329.83,101.21 L330.33,102.24 L330.82,103.28 L331.31,104.31 L331.80,105.35 L332.30,106.38 L332.79,107.42 L333.28,108.45 L333.77,109.48 L334.27,110.51 L334.76,111.54 L335.25,112.57 L335.74,113.60 L336.23,114.63 L336.73,115.65 L337.22,116.68 L337.71,117.70 L338.20,118.72 L338.70,119.74 L339.19,120.76 L339.68,121.78 L340.17,122.80 L340.66,123.81 L341.16,124.83 L341.65,125.84 L342.14,126.85 L342.63,127.86 L343.13,128.86 L343.62,129.87 L344.11,130.87 L344.60,131.87 L345.10,132.87 L345.59,133.86 L346.08,134.85 L346.57,135.85 L347.06,136.83 L347.56,137.82 L348.05,138.80 L348.54,139.79 L349.03,140.76 L349.53,141.74 L350.02,142.71 L350.51,143.68 L351.00,144.65 L351.49,145.61 L351.99,146.58 L352.48,147.53 L352.97,148.49 L353.46,149.44 L353.96,150.39 L354.45,151.34 L354.94,152.28 L355.43,153.22 L355.93,154.15 L356.42,155.08 L356.91,156.01 L357.40,156.94 L357.89,157.86 L358.39,158.77 L358.88,159.69 L359.37,160.60 L359.86,161.50 L360.36,162.40 L360.85,163.30 L361.34,164.19 L361.83,165.08 L362.32,165.97 L362.82,166.85 L363.31,167.72 L363.80,168.60 L364.29,169.46 L364.79,170.32 L365.28,171.18 L365.77,172.04 L366.26,172.88 L366.76,173.73 L367.25,174.57 L367.74,175.40 L368.23,176.23 L368.72,177.05 L369.22,177.87 L369.71,178.68 L370.20,179.49 L370.69,180.30 L371.19,181.09 L371.68,181.89 L372.17,182.67 L372.66,183.45 L373.15,184.23 L373.65,185.00 L374.14,185.76 L374.63,186.52 L375.12,187.27 L375.62,188.02 L376.11,188.76 L376.60,189.50 L377.09,190.22 L377.59,190.95 L378.08,191.66 L378.57,192.37 L379.06,193.08 L379.55,193.78 L380.05,194.47 L380.54,195.15 L381.03,195.83 L381.52,196.50 L382.02,197.16 L382.51,197.82 L383.00,198.47 L383.49,199.12 L383.98,199.76 L384.48,200.39 L384.97,201.01 L385.46,201.63 L385.95,202.23 L386.45,202.84 L386.94,203.43 L387.43,204.02 L387.92,204.60 L388.42,205.17 L388.91,205.73 L389.40,206.29" stroke="#ffa500" stroke-width="3.0" fill="none" stroke-dasharray="0.01 8.638" stroke-dashoffset="-1.200" stroke-linecap="round"/>
<path d="M45.30,49.75 L45.79,49.76 L46.28,49.77 L46.78,49.78 L47.27,49.78 L47.76,49.79 L48.25,49.80 L48.75,49.81 L49.24,49.82 L49.73,49.82 L50.22,49.83 L50.72,49.84 L51.21,49.85 L51.70,49.85 L52.19,49.86 L52.68,49.87 L53.18,49.88 L53.67,49.88 L54.16,49.89 L54.65,49.90 L55.15,49.90 L55.64,49.91 L56.13,49.92 L56.62,49.92 L57.11,49.93 L57.61,49.93 L58.10,49.94 L58.59,49.95 L59.08,49.95 L59.58,49.96 L60.07,49.96 L60.56,49.97 L61.05,49.98 L61.55,49.98 L62.04,49.99 L62.53,49.99 L63.02,50.00 L63.51,50.00 L64.01,50.01 L64.50,50.01 L64.99,50.02 L65.48,50.02 L65.98,50.03 L66.47,50.03 L66.96,50.04 L67.45,50.04 L67.94,50.05 L68.44,50.05 L68.93,50.06 L69.42,50.06 L69.91,50.07 L70.41,50.07 L70.90,50.08 L71.39,50.08 L71.88,50.08 L72.38,50.09 L72.87,50.09 L73.36,50.10 L73.85,50.10 L74.34,50.11 L74.84,50.11 L75.33,50.12 L75.82,50.12 L76.31,50.13 L76.81,50.13 L77.30,50.13 L77.79,50.14 L78.28,50.14 L78.77,50.15 L79.27,50.15 L79.76,50.16 L80.25,50.16 L80.74,50.16 L81.24,50.17 L81.73,50.17 L82.22,50.18 L82.71,50.18 L83.21,50.19 L83.70,50.19 L84.19,50.20 L84.68,50.20 L85.17,50.21 L85.67,50.21 L86.16,50.22 L86.65,50.22 L87.14,50.22 L87.64,50.23 L88.13,50.23 L88.62,50.24 L89.11,50.24 L89.60,50.25 L90.10,50.25 L90.59,50.26 L91.08,50.27 L91.57,50.27 L92.07,50.28 L92.56,50.28 L93.05,50.29 L93.54,50.29 L94.04,50.30 L94.53,50.30 L95.02,50.31 L95.51,50.31 L96.00,50.32 L96.50,50.33 L96.99,50.33 L97.48,50.34 L97.97,50.34 L98.47,50.35 L98.96,50.36 L99.45,50.36 L99.94,50.37 L100.43,50.38 L100.93,50.38 L101.42,50.39 L101.91,50.40 L102.40,50.40 L102.90,50.41 L103.39,50.42 L103.88,50.43 L104.37,50.43 L104.87,50.44 L105.36,50.45 L105.85,50.46 L106.34,50.47 L106.83,50.47 L107.33,50.48 L107.82,50.49 L108.31,50.50 L108.80,50.51 L109.30,50.52 L109.79,50.52 L110.28,50.53 L110.77,50.54 L111.26,50.55 L111.76,50.56 L112.25,50.57 L112.74,50.58 L113.23,50.59 L113.73,50.60 L114.22,50.61 L114.71,50.62 L115.20,50.63 L115.70,50.64 L116.19,50.65 L116.68,50.66 L117.17,50.68 L117.66,50.69 L118.16,50.70 L118.65,50.71 L119.14,50.72 L119.63,50.73 L120.13,50.75 L120.62,50.76 L121.11,50.77 L121.60,50.78 L122.09,50.80 L122.59,50.81 L123.08,50.82 L123.57,50.84 L124.06,50.85 L124.56,50.86 L125.05,50.88 L125.54,50.89 L126.03,50.91 L126.53,50.92 L127.02,50.94 L127.51,50.95 L128.00,50.97 L128.49,50.98 L128.99,51.00 L129.48,51.02 L129.97,51.03 L130.46,51.05 L130.96,51.06 L131.45,51.08 L131.94,51.10 L132.43,51.12 L132.92,51.13 L133.42,51.15 L133.91,51.17 L134.40,51.19 L134.89,51.21 L135.39,51.23 L135.88,51.24 L136.37,51.26 L136.86,51.28 L137.36,51.30 L137.85,51.32 L138.34,51.34 L138.83,51.36 L139.32,51.39 L139.82,51.41 L140.31,51.43 L140.80,51.45 L141.29,51.47 L141.79,51.49 L142.28,51.52 L142.77,51.54 L143.26,51.56 L143.75,51.58 L144.25,51.61 L144.74,51.63 L145.23,51.66 L145.72,51.68 L146.22,51.71 L146.71,51.73 L147.20,51.76 L147.69,51.78 L148.19,51.81 L148.68,51.83 L149.17,51.86 L149.66,51.89 L150.15,51.91 L150.65,51.94 L151.14,51.97 L151.63,52.00 L152.12,52.03 L152.62,52.05 L153.11,52.08 L153.60,52.11 L154.09,52.14 L154.58,52.17 L155.08,52.20 L155.57,52.23 L156.06,52.26 L156.55,52.30 L157.05,52.33 L157.54,52.36 L158.03,52.39 L158.52,52.42 L159.02,52.46 L159.51,52.49 L160.00,52.52 L160.49,52.56 L160.98,52.59 L161.48,52.63 L161.97,52.66 L162.46,52.70 L162.95,52.73 L163.45,52.77 L163.94,52.81 L164.43,52.84 L164.92,52.88 L165.42,52.92 L165.91,52.96 L166.40,53.00 L166.89,53.03 L167.38,53.07 L167.88,53.11 L168.37,53.15 L168.86,53.19 L169.35,53.23 L169.85,53.28 L170.34,53.32 L170.83,53.36 L171.32,53.40 L171.81,53.44 L172.31,53.49 L172.80,53.53 L173.29,53.57 L173.78,53.61 L174.28,53.66 L174.77,53.70 L175.26,53.74 L175.75,53.78 L176.25,53.82 L176.74,53.87 L177.23,53.91 L177.72,53.95 L178.21,53.99 L178.71,54.02 L179.20,54.06 L179.69,54.10 L180.18,54.14 L180.68,54.17 L181.17,54.21 L181.66,54.24 L182.15,54.27 L182.64,54.30 L183.14,54.33 L183.63,54.36 L184.12,54.39 L184.61,54.41 L185.11,54.44 L185.60,54.46 L186.09,54.48 L186.58,54.50 L187.08,54.52 L187.57,54.53 L188.06,54.55 L188.55,54.56 L189.04,54.57 L189.54,54.57 L190.03,54.58 L190.52,54.58 L191.01,54.58 L191.51,54.58 L192.00,54.58 L192.49,54.57 L192.98,54.56 L193.47,54.55 L193.97,54.54 L194.46,54.52 L194.95,54.50 L195.44,54.48 L195.94,54.45 L196.43,54.42 L196.92,54.39 L197.41,54.35 L197.91,54.32 L198.40,54.28 L198.89,54.23 L199.38,54.18 L199.87,54.13 L200.37,54.08 L200.86,54.02 L201.35,53.96 L201.84,53.89 L202.34,53.82 L202.83,53.75 L203.32,53.67 L203.81,53.59 L204.30,53.50 L204.80,53.41 L205.29,53.32 L205.78,53.22 L206.27,53.12 L206.77,53.01 L207.26,52.90 L207.75,52.79 L208.24,52.67 L208.74,52.54 L209.23,52.41 L209.72,52.28 L210.21,52.14 L210.70,52.00 L211.20,51.85 L211.69,51.70 L212.18,51.55 L212.67,51.39 L213.17,51.23 L213.66,51.07 L214.15,50.90 L214.64,50.72 L215.13,50.55 L215.63,50.37 L216.12,50.18 L216.61,50.00 L217.10,49.81 L217.60,49.61 L218.09,49.42 L218.58,49.22 L219.07,49.01 L219.57,48.81 L220.06,48.60 L220.55,48.39 L221.04,48.17 L221.53,47.96 L222.03,47.74 L222.52,47.51 L223.01,47.29 L223.50,47.06 L224.00,46.83 L224.49,46.60 L224.98,46.36 L225.47,46.13 L225.96,45.89 L226.46,45.65 L226.95,45.41 L227.44,45.16 L227.93,44.91 L228.43,44.67 L228.92,44.42 L229.41,44.16 L229.90,43.91 L230.40,43.66 L230.89,43.40 L231.38,43.14 L231.87,42.88 L232.36,42.62 L232.86,42.36 L233.35,42.10 L233.84,41.83 L234.33,41.57 L234.83,41.30 L235.32,41.04 L235.81,40.77 L236.30,40.50 L236.79,40.23 L237.29,39.96 L237.78,39.69 L238.27,39.42 L238.76,39.15 L239.26,38.88 L239.75,38.61 L240.24,38.34 L240.73,38.06 L241.23,37.79 L241.72,37.52 L242.21,37.25 L242.70,36.98 L243.19,36.71 L243.69,36.44 L244.18,36.16 L244.67,35.89 L245.16,35.62 L245.66,35.35 L246.15,35.09 L246.64,34.82 L247.13,34.55 L247.62,34.28 L248.12,34.02 L248.61,33.75 L249.10,33.49 L249.59,33.23 L250.09,32.97 L250.58,32.71 L251.07,32.46 L251.56,32.21 L252.06,31.96 L252.55,31.72 L253.04,31.48 L253.53,31.25 L254.02,31.02 L254.52,30.80 L255.01,30.58 L255.50,30.37 L255.99,30.16 L256.49,29.96 L256.98,29.77 L257.47,29.59 L257.96,29.41 L258.45,29.24 L258.95,29.08 L259.44,28.93 L259.93,28.79 L260.42,28.65 L260.92,28.53 L261.41,28.42 L261.90,28.31 L262.39,28.22 L262.89,28.14 L263.38,28.07 L263.87,28.01 L264.36,27.96 L264.85,27.93 L265.35,27.91 L265.84,27.90 L266.33,27.91 L266.82,27.92 L267.32,27.96 L267.81,28.01 L268.30,28.07 L268.79,28.15 L269.28,28.24 L269.78,28.35 L270.27,28.47 L270.76,28.61 L271.25,28.77 L271.75,28.95 L272.24,29.14 L272.73,29.35 L273.22,29.58 L273.72,29.83 L274.21,30.09 L274.70,30.38 L275.19,30.68 L275.68,31.00 L276.18,31.33 L276.67,31.69 L277.16,32.06 L277.65,32.44 L278.15,32.84 L278.64,33.26 L279.13,33.70 L279.62,34.15 L280.12,34.62 L280.61,35.10 L281.10,35.60 L281.59,36.11 L282.08,36.64 L282.58,37.19 L283.07,37.75 L283.56,38.32 L284.05,38.90 L284.55,39.51 L285.04,40.12 L285.53,40.75 L286.02,41.39 L286.51,42.05 L287.01,42.71 L287.50,43.40 L287.99,44.09 L288.48,44.80 L288.98,45.51 L289.47,46.25 L289.96,46.99 L290.45,47.74 L290.95,48.51 L291.44,49.29 L291.93,50.08 L292.42,50.88 L292.91,51.69 L293.41,52.51 L293.90,53.34 L294.39,54.18 L294.88,55.03 L295.38,55.89 L295.87,56.77 L296.36,57.65 L296.85,58.54 L297.34,59.44 L297.84,60.34 L298.33,61.26 L298.82,62.19 L299.31,63.12 L299.81,64.06 L300.30,65.01 L300.79,65.97 L301.28,66.93 L301.78,67.90 L302.27,68.88 L302.76,69.87 L303.25,70.86 L303.74,71.86 L304.24,72.87 L304.73,73.88 L305.22,74.90 L305.71,75.92 L306.21,76.95 L306.70,77.99 L307.19,79.03 L307.68,80.07 L308.17,81.12 L308.67,82.18 L309.16,83.23 L309.65,84.30 L310.14,85.37 L310.64,86.44 L311.13,87.51 L311.62,88.59 L312.11,89.67 L312.61,90.76 L313.10,91.85 L313.59,92.94 L314.08,94.03 L314.57,95.12 L315.07,96.22 L315.56,97.32 L316.05,98.42 L316.54,99.53 L317.04,100.63 L317.53,101.74 L318.02,102.84 L318.51,103.95 L319.00,105.06 L319.50,106.17 L319.99,107.28 L320.48,108.38 L320.97,109.49 L321.47,110.60 L321.96,111.71 L322.45,112.82 L322.94,113.92 L323.44,115.03 L323.93,116.13 L324.42,117.23 L324.91,118.33 L325.40,119.43 L325.90,120.53 L326.39,121.62 L326.88,122.72 L327.37,123.80 L327.87,124.89 L328.36,125.97 L328.85,127.05 L329.34,128.13 L329.83,129.20 L330.33,130.27 L330.82,131.34 L331.31,132.40 L331.80,133.46 L332.30,134.51 L332.79,135.56 L333.28,136.61 L333.77,137.65 L334.27,138.69 L334.76,139.72 L335.25,140.75 L335.74,141.78 L336.23,142.80 L336.73,143.82 L337.22,144.83 L337.71,145.84 L338.20,146.84 L338.70,147.84 L339.19,148.84 L339.68,149.83 L340.17,150.82 L340.66,151.81 L341.16,152.79 L341.65,153.76 L342.14,154.73 L342.63,155.70 L343.13,156.66 L343.62,157.62 L344.11,158.57 L344.60,159.52 L345.10,160.47 L345.59,161.41 L346.08,162.35 L346.57,163.28 L347.06,164.21 L347.56,165.13 L348.05,166.05 L348.54,166.96 L349.03,167.87 L349.53,168.78 L350.02,169.68 L350.51,170.58 L351.00,171.47 L351.49,172.35 L351.99,173.24 L352.48,174.12 L352.97,174.99 L353.46,175.86 L353.96,176.72 L354.45,177.58 L354.94,178.44 L355.43,179.29 L355.93,180.13 L356.42,180.97 L356.91,181.81 L357.40,182.64 L357.89,183.46 L358.39,184.29 L358.88,185.10 L359.37,185.91 L359.86,186.72 L360.36,187.52 L360.85,188.32 L361.34,189.11 L361.83,189.90 L362.32,190.68 L362.82,191.46 L363.31,192.23 L363.80,193.00 L364.29,193.76 L364.79,194.52 L365.28,195.27 L365.77,196.02 L366.26,196.76 L366.76,197.50 L367.25,198.23 L367.74,198.95 L368.23,199.67 L368.72,200.38 L369.22,201.09 L369.71,201.79 L370.20,202.49 L370.69,203.18 L371.19,203.86 L371.68,204.54 L372.17,205.21 L372.66,205.88 L373.15,206.54 L373.65,207.19 L374.14,207.84 L374.63,208.48 L375.12,209.12 L375.62,209.74 L376.11,210.37 L376.60,210.98 L377.09,211.59 L377.59,212.19 L378.08,212.79 L378.57,213.38 L379.06,213.96 L379.55,214.53 L380.05,215.10 L380.54,215.66 L381.03,216.21 L381.52,216.76 L382.02,217.30 L382.51,217.83 L383.00,218.36 L383.49,218.88 L383.98,219.39 L384.48,219.89 L384.97,220.39 L385.46,220.87 L385.95,221.35 L386.45,221.83 L386.94,222.29 L387.43,222.75 L387.92,223.20 L388.42,223.64 L388.91,224.07 L389.40,224.50" stroke="#00ff00" stroke-width="2.1" fill="none" stroke-dasharray="2.1 5.007 10.6 5.007"/>
<rect x="72.5" y="199.5" width="58.1" height="39.9" fill="#fff" stroke="#000" stroke-width="0.85"/>
<path d="M77,204.4 H106.2" stroke="#ff0000" stroke-width="2.1"/>
<path d="M77,213.1 H106.2" stroke="#0000ff" stroke-width="2.1" stroke-dasharray="8 5"/>
<path d="M77.2,222.8 H106.2" stroke="#ffa500" stroke-width="2.2" stroke-dasharray="2.3 6.4"/>
<path d="M77,232.7 H106.2" stroke="#00ff00" stroke-width="2.1" stroke-dasharray="2 4.6 11.4 5"/>
<path d="M114.2,202.9 H117.2 M118.1,202.9 H121.1 M114.2,213.1 H117.1 M120.9,222.9 H124.0" stroke="#000" stroke-width="1.25" fill="none"/>
<path d="M118.0,212.6 H124.1 M121.05,209.6 V215.6 M114.15,222.6 H120.25 M117.2,219.6 V225.6 M114.15,232.6 H120.25 M117.2,229.6 V235.6 M120.95,232.6 H127.05 M124.0,229.6 V235.6" stroke="#000" stroke-width="0.9" fill="none"/>
<text font-size="13" x="205.2" y="282.7">r</text><text font-size="10" x="210.1" y="276.2" fill="#444">*</text><text font-size="13" x="213.6" y="282.7">/M</text>
<text font-size="13" transform="translate(7.4,130) rotate(-90)">v</text>
</svg>
</body></html>
